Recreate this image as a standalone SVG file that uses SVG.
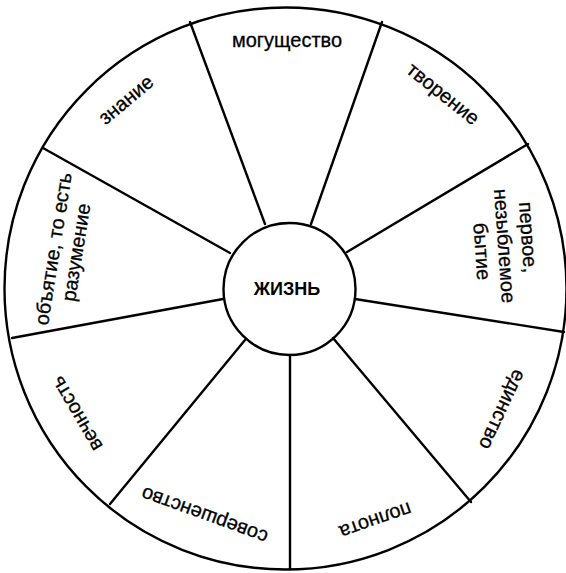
<svg xmlns="http://www.w3.org/2000/svg" width="566" height="573" viewBox="0 0 566 573">
<style>
.ln{stroke:#000;stroke-width:2.4;fill:none;stroke-linecap:round}
.lb{font-family:"Liberation Sans",Arial,sans-serif;font-size:20px;fill:#000;stroke:#000;stroke-width:0.3;text-anchor:middle}
.ctr{font-family:"Liberation Sans",Arial,sans-serif;font-size:18px;font-weight:bold;fill:#000;text-anchor:middle}
</style>
<rect width="566" height="573" fill="#fff"/>
<g id="wheel">
<circle class="ln" cx="285.5" cy="288.5" r="281"/>
</g>
<g id="connectors">
<line class="ln" x1="265" y1="224" x2="190" y2="22"/>
<line class="ln" x1="311" y1="224" x2="382" y2="22"/>
<line class="ln" x1="347" y1="252" x2="528" y2="144"/>
<line class="ln" x1="355" y1="299" x2="564" y2="332"/>
<line class="ln" x1="333" y1="338" x2="471" y2="502"/>
<line class="ln" x1="290" y1="355" x2="290" y2="569"/>
<line class="ln" x1="245" y1="340" x2="110" y2="504"/>
<line class="ln" x1="223" y1="299" x2="12" y2="338"/>
<line class="ln" x1="230" y1="253" x2="43" y2="148"/>
</g>
<g id="center">
<circle class="ln" cx="289.5" cy="289" r="66" fill="#fff"/>
<text class="ctr" x="287" y="295">ЖИЗНЬ</text>
</g>
<g id="seg-mogushchestvo"><text class="lb" x="287" y="47">могущество</text></g>
<g id="seg-tvorenie" transform="translate(442,95) rotate(38.6)"><text class="lb" x="0" y="5">творение</text></g>
<g id="seg-pervoe" transform="translate(503,246) rotate(86)">
<text class="lb" x="-7" y="-19">первое,</text>
<text class="lb" x="0" y="5">незыблемое</text>
<text class="lb" x="4" y="28">бытие</text>
</g>
<g id="seg-edinstvo" transform="translate(501,409) rotate(115)"><text class="lb" x="0" y="5">единство</text></g>
<g id="seg-polnota" transform="translate(375,519) rotate(160.7)"><text class="lb" x="0" y="5">полнота</text></g>
<g id="seg-sovershenstvo" transform="translate(205,514) rotate(199.9)"><text class="lb" x="0" y="5">совершенство</text></g>
<g id="seg-vechnost" transform="translate(78,413) rotate(239.6)"><text class="lb" x="0" y="5">вечность</text></g>
<g id="seg-obyatie" transform="translate(55,249) rotate(-81)">
<text class="lb" x="0" y="5">объятие, то есть</text>
<text class="lb" x="0" y="28">разумение</text>
</g>
<g id="seg-znanie" transform="translate(127,101) rotate(-40)"><text class="lb" x="0" y="5">знание</text></g>
</svg>
